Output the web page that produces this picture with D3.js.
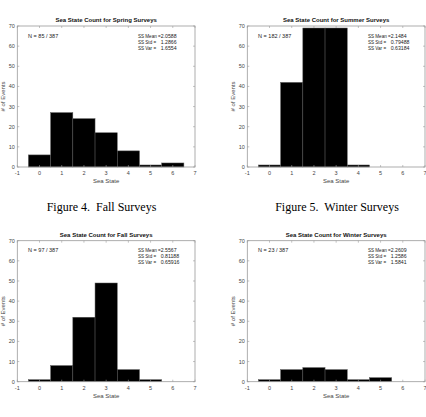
<!DOCTYPE html>
<html>
<head>
    <meta charset="utf-8">
    <script src="https://d3js.org/d3.v7.min.js"></script>
    <style>
        body { margin: 0; background: #fff; }
        svg { display: block; }
    </style>
</head>
<body>
<svg width="426" height="417" id="mainSvg"></svg>
<script>
    // data
    const seaStates = [0, 1, 2, 3, 4, 5, 6];
    const springCounts = [6, 27, 24, 17, 8, 1, 2];
    const summerCounts = [1, 42, 69, 69, 1, 0, 0];
    const fallCounts = [1, 8, 32, 49, 6, 1, 0];
    const winterCounts = [1, 6, 7, 6, 1, 2, 0];

    const seasonNames = ['Spring', 'Summer', 'Fall', 'Winter'];
    const nLabels = ['N = 85 / 387', 'N = 182 / 387', 'N = 97 / 387', 'N = 23 / 387'];
    const meanLabels = ['2.0588', '2.1484', '2.5567', '2.2609'];
    const stdLabels = ['1.2866', '0.79488', '0.81188', '1.2586'];
    const varLabels = ['1.6554', '0.63184', '0.65916', '1.5841'];
    const statNames = ['SS Mean =', 'SS Std =', 'SS Var ='];

    const xTicks = [-1, 0, 1, 2, 3, 4, 5, 6, 7];
    const yTicks = [0, 10, 20, 30, 40, 50, 60, 70];
    const captions = ['Figure 4.  Fall Surveys', 'Figure 5.  Winter Surveys'];

    const allCounts = [springCounts, summerCounts, fallCounts, winterCounts];

    const svg = d3.select('#mainSvg');
    svg.append('rect').attr('width', 426).attr('height', 417).attr('fill', '#fff');

    // plot areas (left, top) for each panel
    const pw = 177.7, ph = 141;
    const origins = [[17.3, 26], [247.3, 26], [17.3, 240.7], [247.3, 240.7]];

    const xScale = d3.scaleLinear().domain([-1, 7]).range([0, pw]);
    const yScale = d3.scaleLinear().domain([0, 70]).range([ph, 0]);

    const sans = 'Liberation Sans, Arial, Helvetica, sans-serif';
    const axisColor = '#9a9a9a';
    const labelColor = '#444';

    function drawPanel(i) {
        const g = svg.append('g')
            .attr('transform', `translate(${origins[i][0]},${origins[i][1]})`);
        const counts = allCounts[i];
        const data = seaStates.map((s, k) => ({ s: s, c: counts[k] }));

        // bars
        g.selectAll('.bar').data(data).enter().append('rect')
            .attr('class', 'bar')
            .attr('x', d => xScale(d.s - 0.5))
            .attr('width', xScale(1) - xScale(0))
            .attr('y', d => yScale(d.c))
            .attr('height', d => yScale(0) - yScale(d.c))
            .attr('fill', '#000')
            .attr('stroke', '#5a5a5a')
            .attr('stroke-width', 0.5);

        // box
        g.append('rect')
            .attr('width', pw).attr('height', ph)
            .attr('fill', 'none')
            .attr('stroke', axisColor)
            .attr('stroke-width', 0.8);

        // ticks inward
        const tl = 2;
        xTicks.forEach(t => {
            g.append('line').attr('x1', xScale(t)).attr('x2', xScale(t))
                .attr('y1', ph).attr('y2', ph - tl)
                .attr('stroke', axisColor).attr('stroke-width', 0.6);
            g.append('line').attr('x1', xScale(t)).attr('x2', xScale(t))
                .attr('y1', 0).attr('y2', tl)
                .attr('stroke', axisColor).attr('stroke-width', 0.6);
        });
        yTicks.forEach(t => {
            g.append('line').attr('x1', 0).attr('x2', tl)
                .attr('y1', yScale(t)).attr('y2', yScale(t))
                .attr('stroke', axisColor).attr('stroke-width', 0.6);
            g.append('line').attr('x1', pw).attr('x2', pw - tl)
                .attr('y1', yScale(t)).attr('y2', yScale(t))
                .attr('stroke', axisColor).attr('stroke-width', 0.6);
        });

        // tick labels
        g.selectAll('.xt').data(xTicks).enter().append('text')
            .attr('x', d => xScale(d)).attr('y', ph + 8)
            .attr('text-anchor', 'middle')
            .attr('font-family', sans).attr('font-size', 5.5)
            .attr('fill', labelColor)
            .text(d => d);
        g.selectAll('.yt').data(yTicks).enter().append('text')
            .attr('x', -2.5).attr('y', d => yScale(d) + 2)
            .attr('text-anchor', 'end')
            .attr('font-family', sans).attr('font-size', 5.5)
            .attr('fill', labelColor)
            .text(d => d);

        // axis labels
        g.append('text')
            .attr('x', pw / 2).attr('y', ph + 16)
            .attr('text-anchor', 'middle')
            .attr('font-family', sans).attr('font-size', 6)
            .attr('fill', labelColor)
            .text('Sea State');
        g.append('text')
            .attr('transform', `translate(-12,${ph / 2}) rotate(-90)`)
            .attr('text-anchor', 'middle')
            .attr('font-family', sans).attr('font-size', 6)
            .attr('fill', labelColor)
            .text('# of Events');

        // title
        g.append('text')
            .attr('x', pw / 2).attr('y', -4)
            .attr('text-anchor', 'middle')
            .attr('font-family', sans).attr('font-size', 6)
            .attr('font-weight', 'bold')
            .attr('fill', '#111')
            .text(`Sea State Count for ${seasonNames[i]} Surveys`);

        // annotations
        g.append('text')
            .attr('x', 10.8).attr('y', 11.5)
            .attr('font-family', sans).attr('font-size', 5.5)
            .attr('fill', '#222')
            .text(nLabels[i]);
        const vals = [meanLabels[i], stdLabels[i], varLabels[i]];
        statNames.forEach((n, k) => {
            const t = g.append('text')
                .attr('y', 11.5 + k * 6)
                .attr('font-family', sans)
                .attr('fill', '#222');
            t.append('tspan').attr('x', 120.6).attr('font-size', 4.6).text(n);
            t.append('tspan').attr('x', 143.4).attr('font-size', 5.2).text(vals[k]);
        });
    }

    d3.range(4).forEach(drawPanel);

    // figure captions
    const serif = 'Liberation Serif, Times New Roman, serif';
    [[101.5, 210.6], [337, 210.6]].forEach((p, k) => {
        svg.append('text')
            .attr('x', p[0]).attr('y', p[1])
            .attr('text-anchor', 'middle')
            .attr('font-family', serif).attr('font-size', 12)
            .attr('fill', '#000')
            .style('white-space', 'pre')
            .text(captions[k]);
    });
</script>
</body>
</html>
